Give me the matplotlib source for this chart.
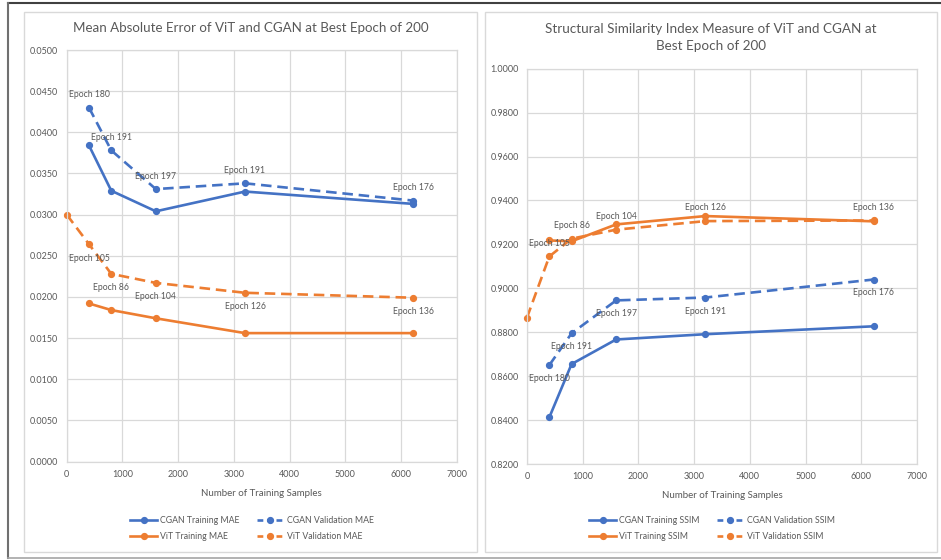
import numpy as np
import matplotlib
matplotlib.use("Agg")
import matplotlib.pyplot as plt
from matplotlib.patches import Rectangle
from matplotlib.lines import Line2D

plt.rcParams['font.family'] = ['Lato', 'DejaVu Sans']

# training sample counts
samples = [400, 800, 1600, 3200, 6220]
samples_vit_val = [0, 400, 800, 1600, 3200, 6220]

# MAE values
cgan_train_mae = [0.0384, 0.0329, 0.0304, 0.0328, 0.0313]
cgan_val_mae = [0.0430, 0.0378, 0.0331, 0.0338, 0.0317]
vit_train_mae = [0.0192, 0.0184, 0.0174, 0.0156, 0.0156]
vit_val_mae = [0.0300, 0.0264, 0.0228, 0.0217, 0.0205, 0.0199]

# SSIM values
cgan_train_ssim = [0.8412, 0.8655, 0.8767, 0.8791, 0.8827]
cgan_val_ssim = [0.8650, 0.8795, 0.8945, 0.8958, 0.9040]
vit_train_ssim = [0.9218, 0.9214, 0.9291, 0.9329, 0.9305]
vit_val_ssim = [0.8867, 0.9145, 0.9226, 0.9267, 0.9306, 0.9309]

# best epochs (data labels on validation series)
cgan_epochs = ['Epoch 180', 'Epoch 191', 'Epoch 197', 'Epoch 191', 'Epoch 176']
vit_epochs = ['Epoch 105', 'Epoch 86', 'Epoch 104', 'Epoch 126', 'Epoch 136']

BLUE = '#4472C4'
ORANGE = '#ED7D31'
TXT = '#595959'
GRID = '#D9D9D9'

W, H = 941, 560
fig = plt.figure(figsize=(W / 100, H / 100), dpi=100)


def fx(px):
    return px / W


def fy(py):
    return 1 - py / H


# outer frame and panels
fig.add_artist(Line2D([fx(8), 1], [fy(2.7), fy(2.7)], color='#404040', lw=1.5))
fig.add_artist(Line2D([fx(8), fx(8)], [fy(2.7), fy(558)], color='#707070', lw=1.5))
fig.add_artist(Line2D([fx(8), 1], [fy(558), fy(558)], color='#A6A6A6', lw=1.2))
for x0, x1 in [(24, 477), (485, 937)]:
    fig.add_artist(Rectangle((fx(x0), fy(552)), fx(x1 - x0), (552 - 12) / H,
                             fill=False, ec=GRID, lw=1))


def style(ax, ymin, ymax, step):
    ax.set_xlim(0, 7000)
    ax.set_xticks(np.arange(0, 7001, 1000))
    ax.set_ylim(ymin, ymax)
    ax.set_yticks(np.arange(ymin, ymax + step / 2, step))
    ax.yaxis.set_major_formatter(matplotlib.ticker.FormatStrFormatter('%.4f'))
    ax.grid(True, color=GRID, lw=0.9)
    ax.set_axisbelow(True)
    for s in ax.spines.values():
        s.set_color(GRID)
        s.set_linewidth(0.9)
    ax.tick_params(length=0, colors=TXT, labelsize=6.5, pad=6)
    ax.set_xlabel('Number of Training Samples', color=TXT, fontsize=7, labelpad=7)


def draw(ax, ct, cv, vt, vv, metric, cgan_off, vit_off):
    kw = dict(lw=1.9, marker='o', ms=4.2, clip_on=False)
    dash = (4, 2.2)
    ax.plot(samples, ct, color=BLUE, label='CGAN Training ' + metric, **kw)
    ax.plot(samples, vt, color=ORANGE, label='ViT Training ' + metric, **kw)
    ax.plot(samples, cv, color=BLUE, dashes=dash, label='CGAN Validation ' + metric, **kw)
    ax.plot(samples_vit_val, vv, color=ORANGE, dashes=dash,
            label='ViT Validation ' + metric, **kw)
    for x, v, t in zip(samples, cv, cgan_epochs):
        ax.annotate(t, (x, v), xytext=(0, cgan_off), textcoords='offset points',
                    ha='center', va='center', fontsize=6.2, color=TXT)
    for x, v, t in zip(samples_vit_val[1:], vv[1:], vit_epochs):
        ax.annotate(t, (x, v), xytext=(0, vit_off), textcoords='offset points',
                    ha='center', va='center', fontsize=6.2, color=TXT)


# left: MAE
ax1 = fig.add_axes([fx(66.7), fy(461.5), fx(390), 411.5 / H])
style(ax1, 0.0, 0.05, 0.005)
draw(ax1, cgan_train_mae, cgan_val_mae, vit_train_mae, vit_val_mae, 'MAE', 9.3, -10)
fig.text(fx(251), fy(28), 'Mean Absolute Error of ViT and CGAN at Best Epoch of 200',
         ha='center', va='center', fontsize=9.6, color=TXT)

# right: SSIM
ax2 = fig.add_axes([fx(527), fy(464), fx(390), (464 - 68.7) / H])
style(ax2, 0.82, 1.0, 0.02)
draw(ax2, cgan_train_ssim, cgan_val_ssim, vit_train_ssim, vit_val_ssim, 'SSIM', -9.7, 9.5)
fig.text(fx(711), fy(37.5), 'Structural Similarity Index Measure of ViT and CGAN at\nBest Epoch of 200',
         ha='center', va='center', fontsize=9.7, color=TXT, linespacing=1.55)

for ax, cx in [(ax1, 252), (ax2, 712)]:
    h, l = ax.get_legend_handles_labels()
    leg = fig.legend(h, l, ncol=2, loc='center', bbox_to_anchor=(fx(cx), fy(528.5)),
                     frameon=False, fontsize=6.3, labelcolor=TXT, handlelength=3.1,
                     columnspacing=1.9, handletextpad=0.35, labelspacing=0.85)
    # shorter dashes so the legend icon reads as "- o -"
    for lh in leg.legend_handles[2:]:
        lh.set_dashes((2.2, 1.4))

fig.savefig('out.png', dpi=100)
